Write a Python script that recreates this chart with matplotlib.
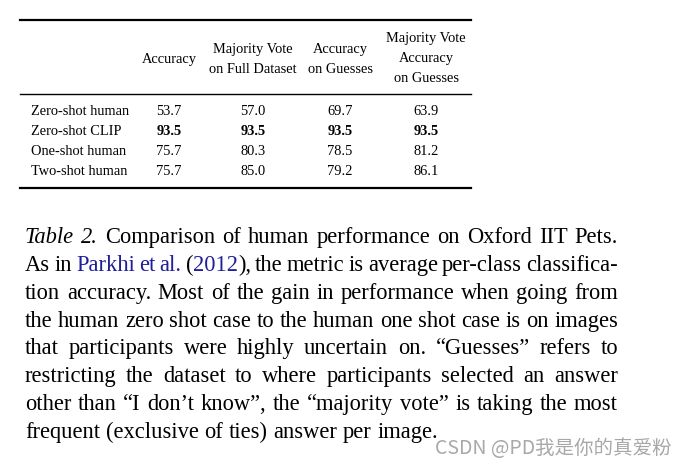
import matplotlib.pyplot as plt

row_labels = ["Zero-shot human", "Zero-shot CLIP", "One-shot human", "Two-shot human"]
col_headers = [["Accuracy"], ["Majority Vote", "on Full Dataset"], ["Accuracy", "on Guesses"],
               ["Majority Vote", "Accuracy", "on Guesses"]]
acc = [53.7, 93.5, 75.7, 75.7]
maj_full = [57.0, 93.5, 80.3, 85.0]
acc_guess = [69.7, 93.5, 78.5, 79.2]
maj_guess = [63.9, 93.5, 81.2, 86.1]
bold_row = 1

# caption: each line is a list of words, each word a list of (text, style) runs
caption_lines = [
    [[("Table", "it")], [("2.", "it")], [("Comparison", "")], [("of", "")], [("human", "")],
     [("performance", "")], [("on", "")], [("Oxford", "")], [("IIT", "")], [("Pets.", "")]],
    [[("As", "")], [("in", "")], [("Parkhi", "link")], [("et", "link")], [("al.", "link")],
     [("(", ""), ("2012", "link"), ("),", "")], [("the", "")], [("metric", "")],
     [("is", "")], [("average", "")], [("per-class", "")], [("classifica-", "")]],
    "tion accuracy. Most of the gain in performance when going from",
    "the human zero shot case to the human one shot case is on images",
    "that participants were highly uncertain on. \u201cGuesses\u201d refers to",
    "restricting the dataset to where participants selected an answer",
    "other than \u201cI don\u2019t know\u201d, the \u201cmajority vote\u201d is taking the most",
    "frequent (exclusive of ties) answer per image.",
]

W, H = 684, 467
fig = plt.figure(figsize=(W / 100, H / 100), dpi=100)
serif = "Liberation Serif"
renderer = fig.canvas.get_renderer()


def fx(px):
    return px / W


def fy(py):
    return 1 - py / H


# rules
for y, lw in [(20, 1.6), (94, 1.0), (188, 1.6)]:
    fig.add_artist(plt.Line2D([fx(20), fx(471)], [fy(y), fy(y)], color="black", lw=lw))

tfs = 10.4
col_x = [169, 253, 340, 426]
header_rows = [[58], [48, 68], [48, 68], [37, 57, 77]]
for x, ys, lines in zip(col_x, header_rows, col_headers):
    for hy, h in zip(ys, lines):
        fig.text(fx(x), fy(hy + 5), h, ha="center", va="baseline", family=serif, fontsize=tfs)

row_y = [110, 130, 150, 170]
columns = [acc, maj_full, acc_guess, maj_guess]
for i, (lab, y) in enumerate(zip(row_labels, row_y)):
    fig.text(fx(31), fy(y + 5), lab, ha="left", va="baseline", family=serif, fontsize=tfs)
    for x, col in zip(col_x, columns):
        fig.text(fx(x), fy(y + 5), f"{col[i]:.1f}", ha="center", va="baseline", family=serif,
                 fontsize=tfs, fontweight="bold" if i == bold_row else "normal")

# caption font size fitted to the width of the last (unjustified) line
probe = fig.text(0, 0, caption_lines[-1], family=serif, fontsize=14.5)
fs = 14.5 * 413 / probe.get_window_extent(renderer).width
probe.remove()

left, right = 25, 618
baselines = [243, 271, 299, 327, 354, 382, 410, 438]


def make_run(text, style, y):
    kw = dict(family=serif, fontsize=fs, ha="left", va="baseline", color="black")
    if style == "it":
        kw["style"] = "italic"
    if style == "link":
        kw["color"] = "#1f1f9a"
    t = fig.text(0, fy(y), text, **kw)
    return t, t.get_window_extent(renderer).width


for n, (line, y) in enumerate(zip(caption_lines, baselines)):
    if isinstance(line, str):
        line = [[(w, "")] for w in line.split(" ") if w]
    words = [[make_run(text, style, y) for text, style in word] for word in line]
    widths = [sum(w for _, w in r) for r in words]
    if n == len(caption_lines) - 1:
        gap = (413 - sum(widths)) / (len(words) - 1)
    else:
        gap = (right - left - sum(widths)) / (len(words) - 1)
    x = left
    for runs, wsum in zip(words, widths):
        cx = x
        for t, w in runs:
            t.set_x(fx(cx))
            cx += w
        x += wsum + gap

fig.text(fx(435), fy(448), "CSDN @PD我是你的真爱粉", family=["Noto Sans CJK SC", "DejaVu Sans"],
         fontsize=14, color="#a8a8a8", ha="left", va="center")

fig.savefig("out.png", dpi=100)
